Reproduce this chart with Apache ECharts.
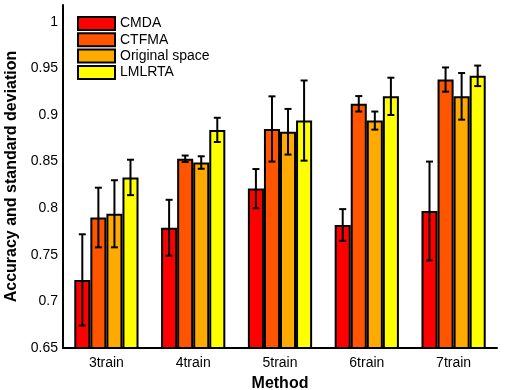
<!DOCTYPE html>
<html><head><meta charset="utf-8">
<script src="https://cdn.jsdelivr.net/npm/echarts@6/dist/echarts.min.js"></script>
<style>html,body{margin:0;padding:0;background:#fff}#c{width:508px;height:390px}</style>
</head><body><div id="c"></div>
<script>
var categories = ['3train','4train','5train','6train','7train'];
var seriesNames = ['CMDA','CTFMA','Original space','LMLRTA'];
var cmda = [0.723, 0.779, 0.821, 0.782, 0.797];
var ctfma = [0.790, 0.853, 0.885, 0.912, 0.938];
var orig = [0.794, 0.849, 0.882, 0.894, 0.920];
var lmlrta = [0.833, 0.884, 0.894, 0.920, 0.942];
var cmdaStd = [0.049, 0.030, 0.021, 0.017, 0.053];
var ctfmaStd = [0.032, 0.0035, 0.035, 0.0083, 0.013];
var origStd = [0.036, 0.0067, 0.0245, 0.0097, 0.025];
var lmlrtaStd = [0.019, 0.013, 0.043, 0.020, 0.011];
var yTicks = [0.65, 0.7, 0.75, 0.8, 0.85, 0.9, 0.95, 1];

var colors = ['#FF0000', '#FF5500', '#FFAA00', '#FFFF00'];
var means = [cmda, ctfma, orig, lmlrta];
var stds = [cmdaStd, ctfmaStd, origStd, lmlrtaStd];
var catGap = 0.26;

var chart = echarts.init(document.getElementById('c'));
var series = [];
seriesNames.forEach(function (name, i) {
  series.push({
    name: name, type: 'bar', data: means[i], barGap: '0%', barCategoryGap: (catGap * 100) + '%',
    itemStyle: { color: colors[i], borderColor: '#000', borderWidth: 2 }
  });
});
seriesNames.forEach(function (name, i) {
  series.push({
    type: 'custom', name: name + ' err', z: 10,
    data: means[i].map(function (m, j) { return [j, m - stds[i][j], m + stds[i][j]]; }),
    renderItem: function (params, api) {
      var x = api.value(0);
      var lo = api.coord([x, api.value(1)]);
      var hi = api.coord([x, api.value(2)]);
      var band = api.size([1, 0])[0];
      var bw = band * (1 - catGap) / 4;
      var cx = lo[0] + (i - 1.5) * bw;
      var cap = 3.5;
      var st = { stroke: '#000', lineWidth: 2 };
      return { type: 'group', children: [
        { type: 'line', shape: { x1: cx, y1: lo[1], x2: cx, y2: hi[1] }, style: st },
        { type: 'line', shape: { x1: cx - cap, y1: lo[1], x2: cx + cap, y2: lo[1] }, style: st },
        { type: 'line', shape: { x1: cx - cap, y1: hi[1], x2: cx + cap, y2: hi[1] }, style: st }
      ]};
    }
  });
});

chart.setOption({
  animation: false,
  backgroundColor: '#fff',
  textStyle: { fontFamily: 'Liberation Sans, Arial, sans-serif' },
  grid: { left: 63, right: 11, top: 5, bottom: 42, outerBoundsMode: 'none', containLabel: false },
  legend: {
    data: seriesNames, orient: 'vertical', left: 72, top: 11,
    icon: 'rect',
    itemWidth: 37, itemHeight: 13, itemGap: 1.3,
    textStyle: { fontSize: 14, color: '#000', lineHeight: 13 },
    itemStyle: { borderColor: '#000', borderWidth: 2 }
  },
  xAxis: {
    type: 'category', data: categories,
    name: 'Method', nameLocation: 'middle', nameGap: 28,
    nameTextStyle: { fontSize: 16, fontWeight: 'bold', color: '#000' },
    axisLine: { lineStyle: { color: '#000', width: 2 } },
    axisTick: { show: false },
    axisLabel: { fontSize: 14, color: '#000', margin: 8 }
  },
  yAxis: {
    type: 'value', min: 0.65, max: 1.018, interval: 0.05,
    name: 'Accuracy and standard deviation', nameLocation: 'middle', nameGap: 42,
    nameTextStyle: { fontSize: 16, fontWeight: 'bold', color: '#000' },
    splitLine: { show: false },
    axisLine: { show: true, lineStyle: { color: '#000', width: 2 } },
    axisTick: { show: false },
    axisLabel: {
      fontSize: 14, color: '#000', margin: 5,
      formatter: function (v) {
        for (var k = 0; k < yTicks.length; k++) {
          if (Math.abs(v - yTicks[k]) < 1e-6) return String(yTicks[k]);
        }
        return '';
      }
    }
  },
  series: series
});
</script></body></html>
